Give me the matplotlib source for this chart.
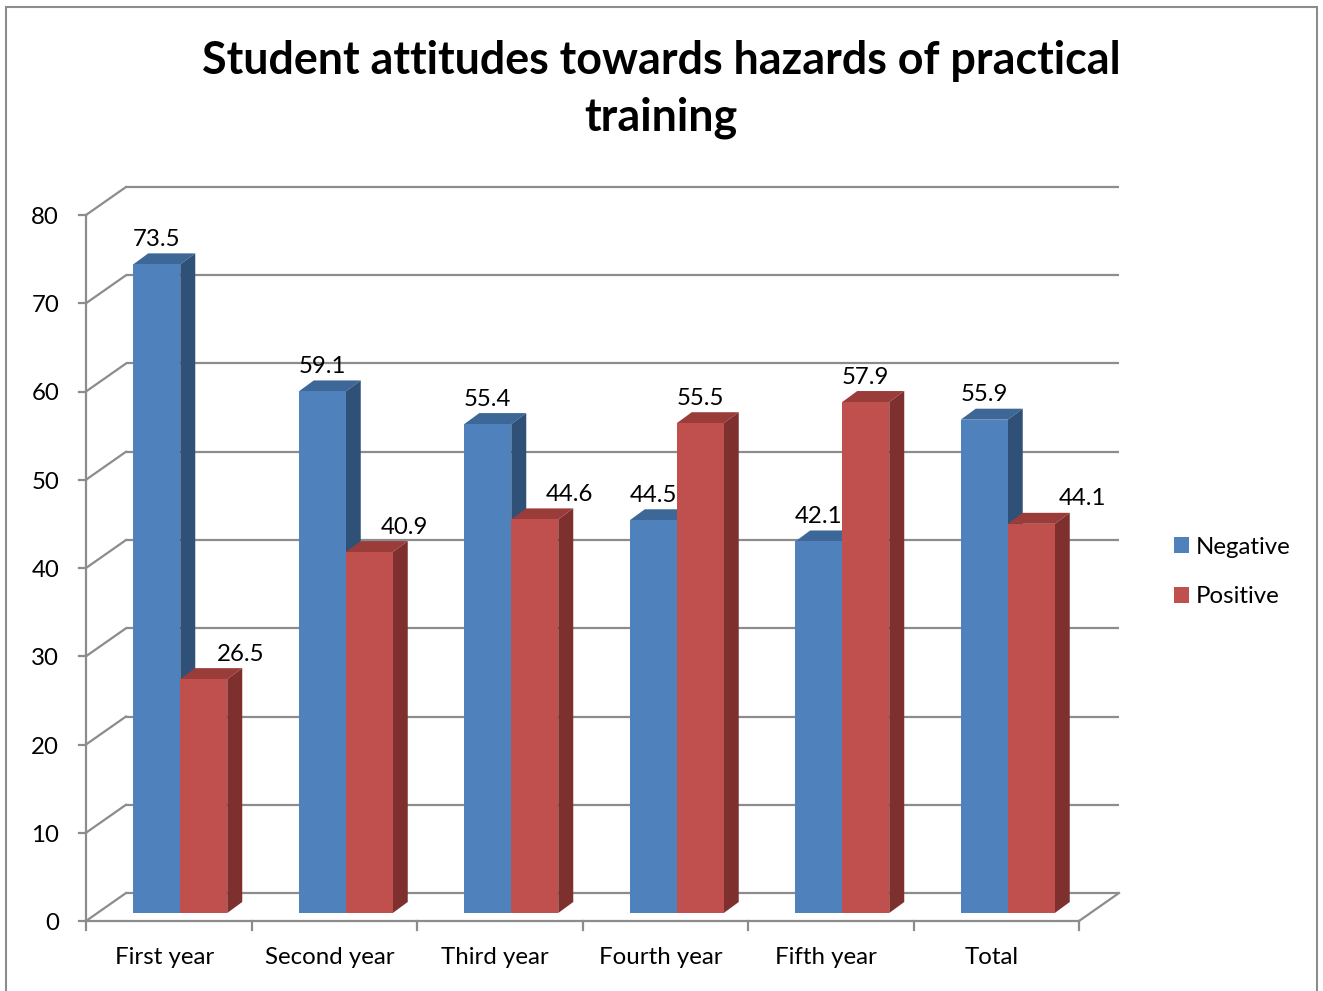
import matplotlib
matplotlib.use('Agg')
import matplotlib.pyplot as plt
from matplotlib.patches import Polygon, Rectangle

# ---------------- data ----------------
categories = ["First year", "Second year", "Third year", "Fourth year", "Fifth year", "Total"]
negative = [73.5, 59.1, 55.4, 44.5, 42.1, 55.9]
positive = [26.5, 40.9, 44.6, 55.5, 57.9, 44.1]
series_names = ["Negative", "Positive"]
yticks = [0, 10, 20, 30, 40, 50, 60, 70, 80]
title = "Student attitudes towards hazards of practical\ntraining"

# ---------------- style ----------------
plt.rcParams['font.family'] = ['Lato', 'DejaVu Sans']
BLUE = dict(front='#4F81BD', top='#3D6796', side='#2F5178')
RED = dict(front='#C0504D', top='#9A3C3A', side='#7E302E')
GRID = '#8C8C8C'
TXT = '#000000'
FS = 17.3

W, H = 1323, 991
fig = plt.figure(figsize=(W / 100, H / 100), dpi=100)

# axes = plane of the bars' front faces
L, R, B, T = 97.5, 1090.5, 913, 207   # pixel edges (from top-left)
ax = fig.add_axes([L / W, (H - B) / H, (R - L) / W, (B - T) / H])
ax.set_xlim(-0.5, len(categories) - 0.5)
ax.set_ylim(0, 80)
ax.axis('off')

pxx = (R - L) / len(categories)   # pixels per category unit
pxy = (B - T) / 80.0              # pixels per value unit


def off(dx, dy):
    return dx / pxx, dy / pxy


fx, fy = off(-11.5, -8)    # front plane
bx, by = off(28.5, 20)     # back plane
dx, dy = off(15, 11)       # bar depth
x0, x1 = -0.5, len(categories) - 0.5
lw = 1.6

# back wall grid lines + left wall diagonals
for v in yticks:
    ax.plot([x0 + bx, x1 + bx], [v + by, v + by], color=GRID, lw=lw, zorder=1,
            clip_on=False, solid_capstyle='butt')
    ax.plot([x0 + fx, x0 + bx], [v + fy, v + by], color=GRID, lw=lw, zorder=1,
            clip_on=False)
# floor front edge and right edge
ax.plot([x0 + fx, x1 + fx], [fy, fy], color=GRID, lw=lw, zorder=1, clip_on=False)
ax.plot([x1 + fx, x1 + bx], [fy, by], color=GRID, lw=lw, zorder=1, clip_on=False)
# vertical value axis
ax.plot([x0 + fx, x0 + fx], [fy, 80 + fy], color=GRID, lw=lw, zorder=1, clip_on=False)

# y ticks and labels
tkx, _ = off(7, 0)
lbx, lbyy = off(27, 2.5)
for v in yticks:
    ax.plot([x0 + fx - tkx, x0 + fx], [v + fy, v + fy], color=GRID, lw=lw,
            clip_on=False, zorder=1)
    ax.text(x0 + fx - lbx, v + fy - lbyy, str(v), ha='right', va='center',
            fontsize=FS, color=TXT)
# x ticks and labels
_, tky = off(0, 9)
cxs, lby = off(4.5, 37)
for k in range(len(categories) + 1):
    xx = k - 0.5 + fx
    ax.plot([xx, xx], [fy, fy - tky], color=GRID, lw=lw, clip_on=False, zorder=1)
for i, c in enumerate(categories):
    ax.text(i + fx - cxs, fy - lby, c, ha='center', va='center', fontsize=FS,
            color=TXT)

# bars
w = 47 / pxx
xs = list(range(len(categories)))


def bar3d(xl, v, col, z):
    xr = xl + w
    top = Polygon([(xl, v), (xr, v), (xr + dx, v + dy), (xl + dx, v + dy)],
                  closed=True, fc=col['top'], ec='none', zorder=z, clip_on=False)
    side = Polygon([(xr, 0), (xr + dx, dy), (xr + dx, v + dy), (xr, v)],
                   closed=True, fc=col['side'], ec='none', zorder=z, clip_on=False)
    ax.add_patch(top)
    ax.add_patch(side)


handles = []
for i in xs:
    z = 3 + 2 * i
    bar3d(i - w, negative[i], BLUE, z)
    hb = ax.bar(i - w / 2, negative[i], w, color=BLUE['front'], zorder=z + 0.5,
                clip_on=False, linewidth=0)
    bar3d(i, positive[i], RED, z + 1)
    hr = ax.bar(i + w / 2, positive[i], w, color=RED['front'], zorder=z + 1.5,
                clip_on=False, linewidth=0)
    if i == 0:
        handles = [hb, hr]

# data labels (red labels shifted right where they would overlap)
_, ly = off(0, 25)
red_shift_px = [37, 35, 35, 0, 0, 51]
for i in xs:
    ax.text(i - w / 2, negative[i] + ly, f"{negative[i]:.1f}", ha='center',
            va='center', fontsize=FS, color=TXT, zorder=30)
    sx, _ = off(red_shift_px[i], 0)
    ax.text(i + w / 2 + sx, positive[i] + ly, f"{positive[i]:.1f}", ha='center',
            va='center', fontsize=FS, color=TXT, zorder=30)

# legend
fig.legend(handles, series_names, loc='center left',
           bbox_to_anchor=(1174 / W, 1 - 572 / H), frameon=False, fontsize=FS,
           handlelength=0.62, handleheight=0.62, handletextpad=0.3,
           labelspacing=1.2, borderpad=0, borderaxespad=0)

# title
fig.text(661 / W, 1 - 89.5 / H, title, ha='center', va='center', fontsize=32.3,
         fontweight='bold', color=TXT, linespacing=1.43)

# outer frame
fig.patches.append(Rectangle((6 / W, -0.02), 1311 / W, (H - 7) / H + 0.02,
                             transform=fig.transFigure, fill=False,
                             ec='#8C8C8C', lw=1.5))

fig.savefig('out.png', dpi=100)
